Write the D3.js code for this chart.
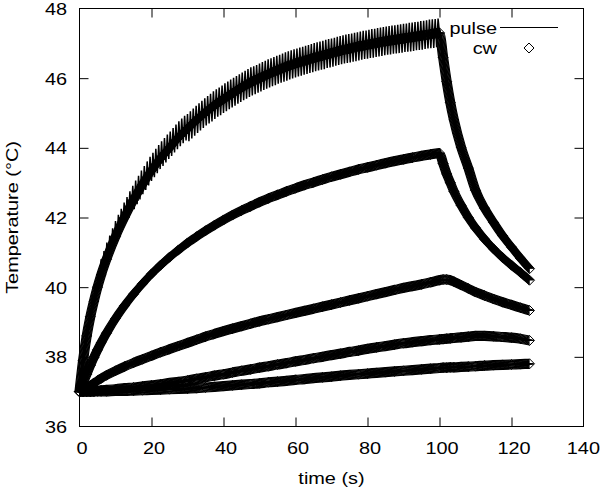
<!DOCTYPE html>
<html><head><meta charset="utf-8">
<script src="https://cdn.jsdelivr.net/npm/d3@7"></script>
<style>
body{margin:0;background:#fff}
svg{display:block;background:#fff}
text{font-family:"Liberation Sans",Arial,Helvetica,sans-serif;fill:#000}
</style>
</head><body>
<svg id="chart" width="601" height="489"></svg>
<script>
// ---------------- data ----------------
const xTicks = [0, 20, 40, 60, 80, 100, 120, 140];
const yTicks = [36, 38, 40, 42, 44, 46, 48];
const xLabel = "time (s)";
const yLabel = "Temperature (°C)";
const seriesNames = ["pulse", "cw"];

// sample times of the cw curves (s)
const cwTime = [0, 1, 2, 3, 4, 5, 6,
  7.5, 10, 12.5, 15, 17.5, 20, 22.5, 25, 27.5, 30,
  32.5, 35, 37.5, 40, 42.5, 45, 47.5, 50, 52.5, 55,
  57.5, 60, 62.5, 65, 67.5, 70, 72.5, 75, 77.5, 80,
  82.5, 85, 87.5, 90, 92.5, 95, 97.5, 100,
  101, 102, 103, 104, 106, 108, 110, 112.5, 115, 117.5, 120, 122.5, 125];

const cwA = [37.0, 37.9, 38.6, 39.15, 39.6, 40.0, 40.35,
  40.8, 41.45, 42.0, 42.5, 42.95, 43.35, 43.7, 44.0, 44.3, 44.55,
  44.8, 45.02, 45.22, 45.4, 45.57, 45.73, 45.88, 46.0, 46.12, 46.23,
  46.33, 46.42, 46.5, 46.58, 46.65, 46.72, 46.79, 46.85, 46.91, 46.96,
  47.01, 47.06, 47.1, 47.14, 47.18, 47.22, 47.26, 47.3,
  46.6, 45.9, 45.3, 44.8, 44.02, 43.42, 42.78, 42.27, 41.86, 41.48, 41.15, 40.83, 40.53];

const cwB = [37.0, 37.25, 37.5, 37.75, 37.98, 38.2, 38.4,
  38.68, 39.1, 39.47, 39.8, 40.1, 40.38, 40.63, 40.86, 41.07, 41.27,
  41.45, 41.62, 41.78, 41.93, 42.07, 42.2, 42.32, 42.44, 42.55, 42.65,
  42.75, 42.84, 42.93, 43.01, 43.09, 43.17, 43.24, 43.31, 43.38, 43.44,
  43.5, 43.56, 43.62, 43.67, 43.72, 43.77, 43.81, 43.85,
  43.55, 43.25, 43.0, 42.75, 42.35, 42.0, 41.7, 41.38, 41.1, 40.85, 40.63, 40.42, 40.2];

const cwC = [37.0, 37.05, 37.12, 37.18, 37.25, 37.32, 37.38,
  37.47, 37.6, 37.72, 37.83, 37.93, 38.03, 38.13, 38.22, 38.31, 38.4,
  38.49, 38.58, 38.66, 38.74, 38.81, 38.88, 38.95, 39.02, 39.08, 39.14,
  39.2, 39.26, 39.32, 39.38, 39.44, 39.5, 39.56, 39.62, 39.68, 39.74,
  39.8, 39.86, 39.92, 39.98, 40.03, 40.08, 40.14, 40.2,
  40.22, 40.22, 40.2, 40.16, 40.06, 39.96, 39.86, 39.76, 39.66, 39.57, 39.49, 39.41, 39.33];

const cwD = [37.0, 37.0, 37.01, 37.01, 37.02, 37.03, 37.04,
  37.05, 37.07, 37.1, 37.12, 37.15, 37.18, 37.21, 37.25, 37.28, 37.32,
  37.37, 37.41, 37.46, 37.5, 37.55, 37.6, 37.64, 37.69, 37.73, 37.78,
  37.82, 37.87, 37.91, 37.96, 38.0, 38.05, 38.09, 38.14, 38.18, 38.23,
  38.27, 38.31, 38.35, 38.39, 38.42, 38.45, 38.48, 38.5,
  38.51, 38.52, 38.53, 38.54, 38.56, 38.58, 38.6, 38.6, 38.59, 38.57, 38.55, 38.52, 38.47];

const cwE = [37.0, 37.0, 37.0, 37.0, 37.0, 37.01, 37.01,
  37.01, 37.02, 37.02, 37.03, 37.04, 37.05, 37.06, 37.07, 37.08, 37.09,
  37.1, 37.12, 37.14, 37.16, 37.18, 37.2, 37.22, 37.24, 37.27, 37.29,
  37.31, 37.34, 37.36, 37.39, 37.41, 37.43, 37.46, 37.48, 37.5, 37.52,
  37.54, 37.56, 37.58, 37.6, 37.62, 37.64, 37.66, 37.68,
  37.69, 37.69, 37.7, 37.7, 37.71, 37.72, 37.73, 37.75, 37.76, 37.77, 37.78, 37.79, 37.8];

// pulse curve, sampled every 0.4 s from 0 to 100 s (alternating trough / peak)
const pulseStep = 0.4;
const pulseTemp = [
  37.0, 37.61, 37.67, 38.29, 38.27, 38.9, 38.72, 39.39, 39.14, 39.77,
  39.5, 40.11, 39.82, 40.42, 40.11, 40.8, 40.27, 41.04, 40.51, 41.28,
  40.73, 41.48, 40.94, 41.69, 41.15, 41.9, 41.34, 42.08, 41.51, 42.25,
  41.69, 42.43, 41.86, 42.59, 42.02, 42.75, 42.18, 42.91, 42.24, 43.06,
  42.38, 43.2, 42.52, 43.35, 42.67, 43.48, 42.79, 43.61, 42.92, 43.74,
  43.05, 43.86, 43.16, 43.97, 43.27, 44.08, 43.39, 44.19, 43.48, 44.28,
  43.58, 44.38, 43.68, 44.47, 43.77, 44.57, 43.87, 44.67, 43.96, 44.76,
  44.05, 44.84, 44.13, 44.92, 44.21, 44.97, 44.19, 45.05, 44.27, 45.13,
  44.35, 45.21, 44.43, 45.28, 44.5, 45.35, 44.57, 45.42, 44.64, 45.49,
  44.7, 45.55, 44.76, 45.62, 44.83, 45.68, 44.89, 45.73, 44.94, 45.79,
  45.0, 45.85, 45.05, 45.9, 45.11, 45.96, 45.16, 46.01, 45.21, 46.06,
  45.27, 46.11, 45.32, 46.16, 45.37, 46.21, 45.41, 46.26, 45.46, 46.31,
  45.5, 46.34, 45.54, 46.38, 45.58, 46.42, 45.62, 46.46, 45.66, 46.5,
  45.7, 46.54, 45.73, 46.57, 45.77, 46.61, 45.8, 46.64, 45.84, 46.67,
  45.87, 46.71, 45.9, 46.74, 45.93, 46.77, 45.96, 46.8, 45.99, 46.83,
  46.02, 46.85, 46.05, 46.88, 46.07, 46.9, 46.1, 46.93, 46.12, 46.95,
  46.15, 46.98, 46.17, 47.01, 46.2, 47.03, 46.22, 47.05, 46.24, 47.07,
  46.26, 47.1, 46.29, 47.12, 46.31, 47.14, 46.33, 47.16, 46.36, 47.19,
  46.38, 47.21, 46.4, 47.23, 46.42, 47.25, 46.44, 47.27, 46.45, 47.28,
  46.47, 47.3, 46.49, 47.32, 46.51, 47.34, 46.53, 47.36, 46.55, 47.37,
  46.56, 47.39, 46.58, 47.41, 46.59, 47.42, 46.61, 47.44, 46.62, 47.45,
  46.64, 47.47, 46.66, 47.48, 46.67, 47.5, 46.68, 47.51, 46.7, 47.52,
  46.71, 47.53, 46.72, 47.55, 46.73, 47.56, 46.75, 47.57, 46.76, 47.59,
  46.77, 47.6, 46.78, 47.61, 46.8, 47.62, 46.81, 47.64, 46.82, 47.65,
  46.84, 47.66, 46.85, 47.68, 46.86, 47.69, 46.87, 47.7, 46.89, 47.71,
  47.3
];

// ---------------- drawing ----------------
const svg = d3.select("#chart");
const L = 79.5, R = 583.5, T = 8.5, B = 426.5;
const x = d3.scaleLinear().domain([0, 140]).range([L, R]);
const y = d3.scaleLinear().domain([36, 48]).range([B, T]);
const SX = 1.17, FS = 17;

function label(px, py, str, anchor, rot) {
  return svg.append("text")
    .attr("transform", `translate(${px},${py}) rotate(${rot || 0}) scale(${SX},1)`)
    .attr("text-anchor", anchor)
    .style("font-size", FS + "px")
    .text(str);
}

// ticks via d3 axes (inward, all four sides)
const TK = 9;
function styleAxis(g) {
  g.select(".domain").remove();
  g.selectAll(".tick text").remove();
  g.selectAll(".tick line").attr("stroke", "#000").attr("stroke-width", 1);
}
svg.append("g").attr("transform", `translate(0,${B})`)
  .call(d3.axisBottom(x).tickValues(xTicks.slice(1, -1)).tickSize(-TK)).call(styleAxis);
svg.append("g").attr("transform", `translate(0,${T})`)
  .call(d3.axisTop(x).tickValues(xTicks.slice(1, -1)).tickSize(-TK)).call(styleAxis);
svg.append("g").attr("transform", `translate(${L},0)`)
  .call(d3.axisLeft(y).tickValues(yTicks.slice(1, -1)).tickSize(-TK)).call(styleAxis);
svg.append("g").attr("transform", `translate(${R},0)`)
  .call(d3.axisRight(y).tickValues(yTicks.slice(1, -1)).tickSize(-TK)).call(styleAxis);

// frame
svg.append("rect").attr("x", L).attr("y", T).attr("width", R - L).attr("height", B - T)
  .attr("fill", "none").attr("stroke", "#000").attr("stroke-width", 1);

// tick labels
xTicks.forEach(v => {
  const t = label(x(v) + 2.5, 454, String(v), "middle");
  const r = t.node().getBoundingClientRect();
  if (r.right > 600) t.attr("transform", `translate(${x(v) + 2.5 - (r.right - 600)},454) scale(${SX},1)`);
});
yTicks.forEach(v => label(67, y(v) + 6.5, String(v), "end"));

// axis titles
label((L + R) / 2, 484, xLabel, "middle");
label(18, (T + B) / 2, yLabel, "middle", -90);

// pulse line
const pulsePts = pulseTemp.map((v, i) => [i * pulseStep, v]);
const lineP = d3.line().x(d => x(d[0])).y(d => y(d[1]));
svg.append("path").attr("d", lineP(pulsePts))
  .attr("fill", "none").attr("stroke", "#000").attr("stroke-width", 1.5)
  .attr("stroke-linejoin", "miter").attr("stroke-miterlimit", 4);

// cw curves: a dense run of open diamonds forms a band; draw it as the curve
// swept along the diamond's two diagonals, then the diamonds at the data points
const cwSeries = [cwA, cwB, cwC, cwD, cwE];
const lineC = d3.line().x(d => x(d[0])).y(d => y(d[1])).curve(d3.curveMonotoneX);
const diamond = "M0,-5L5,0L0,5L-5,0Z";
const sweep = d3.range(-4.5, 4.51, 0.75);
cwSeries.forEach(s => {
  const pts = cwTime.map((t, i) => [t, s[i]]);
  const d = lineC(pts);
  const g = svg.append("g");
  sweep.forEach(k => {
    g.append("path").attr("d", d).attr("transform", `translate(${k},0)`)
      .attr("fill", "none").attr("stroke", "#000").attr("stroke-width", 1.2);
    g.append("path").attr("d", d).attr("transform", `translate(0,${k})`)
      .attr("fill", "none").attr("stroke", "#000").attr("stroke-width", 1.2);
  });
  svg.append("g").selectAll("path").data(pts).join("path")
    .attr("transform", p => `translate(${x(p[0])},${y(p[1])})`)
    .attr("d", diamond).attr("fill", "none").attr("stroke", "#000").attr("stroke-width", 1);
});

// legend
label(497, 34, seriesNames[0], "end");
svg.append("line").attr("x1", 500).attr("x2", 558).attr("y1", 27.5).attr("y2", 27.5)
  .attr("stroke", "#000").attr("stroke-width", 1);
label(497, 54, seriesNames[1], "end");
svg.append("path").attr("transform", "translate(529,48)").attr("d", diamond)
  .attr("fill", "none").attr("stroke", "#000").attr("stroke-width", 1);
</script>
</body></html>
